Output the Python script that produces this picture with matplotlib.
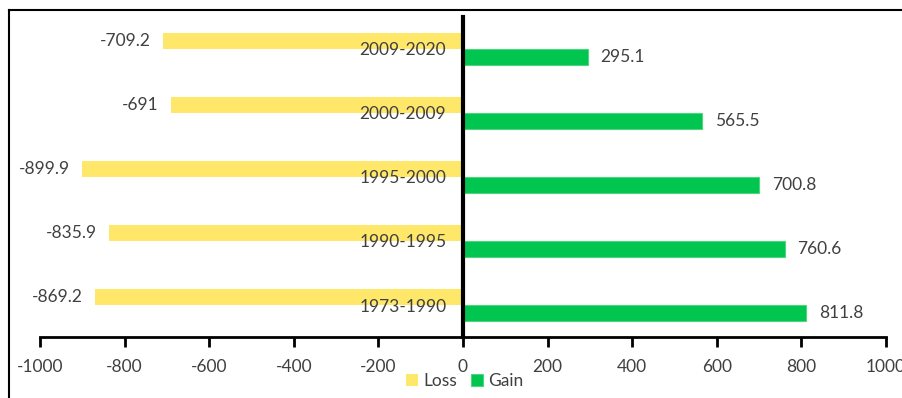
import matplotlib.pyplot as plt
import numpy as np
from matplotlib.lines import Line2D

plt.rcParams['font.family'] = ['Lato', 'DejaVu Sans']

# periodos de abajo hacia arriba
periodos = ['1973-1990', '1990-1995', '1995-2000', '2000-2009', '2009-2020']
perdida = [-869.2, -835.9, -899.9, -691, -709.2]
ganancia = [811.8, 760.6, 700.8, 565.5, 295.1]
etiquetas_perdida = ['-869.2', '-835.9', '-899.9', '-691', '-709.2']
etiquetas_ganancia = ['811.8', '760.6', '700.8', '565.5', '295.1']
ticks_x = [-1000, -800, -600, -400, -200, 0, 200, 400, 600, 800, 1000]

gris = '#404040'
amarillo = '#FFE76A'
verde = '#00C54F'

fig = plt.figure(figsize=(9.03, 3.98), dpi=100)
ax = fig.add_axes([40 / 903, 1 - 337 / 398, 846 / 903, 320 / 398])

y = np.arange(len(periodos))
h = 0.25
b1 = ax.barh(y + h / 2, perdida, height=h, color=amarillo, label='Loss')
b2 = ax.barh(y - h / 2, ganancia, height=h, color=verde, edgecolor='#4CD67F',
             linewidth=0.8, label='Gain')
ax.bar_label(b1, labels=etiquetas_perdida, padding=9, fontsize=12.5, color=gris)
ax.bar_label(b2, labels=etiquetas_ganancia, padding=9, fontsize=12.5, color=gris)

ax.set_xlim(-1000, 1000)
ax.set_ylim(-0.5, 4.5)
ax.set_xticks(ticks_x)
ax.set_xticklabels([str(t) for t in ticks_x])
ax.set_yticks(y)
ax.set_yticklabels(periodos)

# eje vertical en cero
ax.spines['left'].set_position(('data', 0))
ax.spines['left'].set_linewidth(3)
ax.spines['bottom'].set_linewidth(2)
ax.spines['top'].set_visible(False)
ax.spines['right'].set_visible(False)
ax.tick_params(axis='x', direction='out', length=7, width=2, labelsize=12.5,
               labelcolor=gris, pad=9)
ax.tick_params(axis='y', length=0, pad=12, labelsize=12.5, labelcolor=gris)

fig.legend(handles=[b1, b2], loc='center', bbox_to_anchor=(465 / 903, 0.043),
           ncol=2, frameon=False, fontsize=12.5, handlelength=0.7,
           handleheight=0.7, handletextpad=0.3, columnspacing=0.8,
           labelcolor=gris)

# marco exterior
fig.add_artist(Line2D([9 / 903, 1], [1 - 10 / 398, 1 - 10 / 398],
                      transform=fig.transFigure, color='black', lw=1.5))
fig.add_artist(Line2D([9 / 903, 9 / 903], [0, 1 - 10 / 398],
                      transform=fig.transFigure, color='black', lw=1.5))

fig.savefig('out.png', dpi=100)
